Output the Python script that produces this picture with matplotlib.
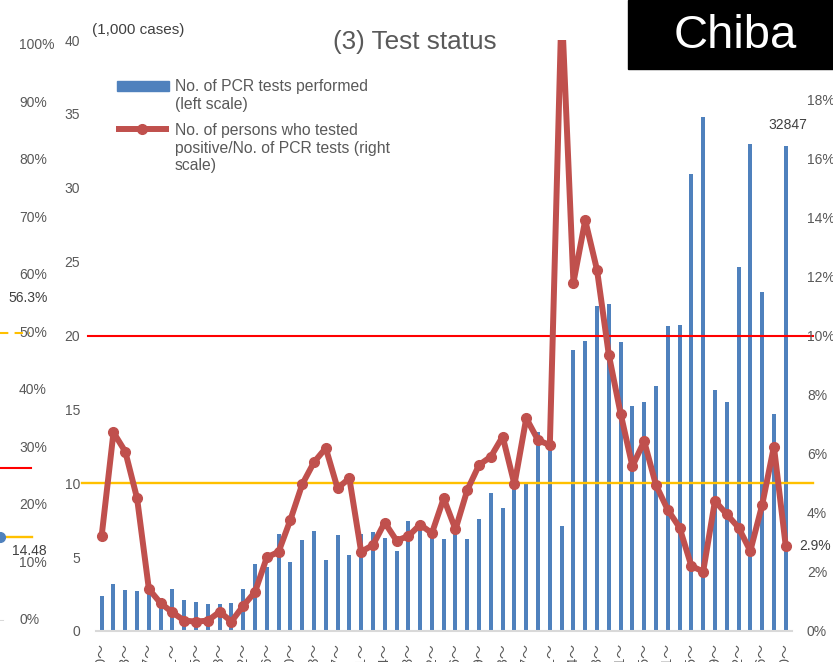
import numpy as np
import matplotlib
matplotlib.use("Agg")
import matplotlib.pyplot as plt
from matplotlib.patches import Rectangle
from matplotlib.lines import Line2D
from matplotlib import transforms
from matplotlib.ticker import PercentFormatter

plt.rcParams['font.family'] = ['Liberation Sans', 'Noto Sans CJK JP', 'DejaVu Sans']

# weekly PCR tests (thousands) and positivity rate (%)
tests = [2.37, 3.18, 2.77, 2.73, 2.55, 2.21, 2.82, 2.10, 1.94, 1.83,
         1.83, 1.87, 2.86, 4.51, 4.31, 6.54, 4.65, 6.14, 6.77, 4.79,
         6.50, 5.12, 6.54, 6.68, 6.32, 5.41, 7.47, 6.90, 6.38, 6.23,
         6.72, 6.20, 7.56, 9.32, 8.35, 9.86, 10.0, 13.49, 12.59, 7.14,
         19.02, 19.64, 22.03, 22.15, 19.55, 15.20, 15.51, 16.55, 20.61, 20.68,
         30.90, 34.78, 16.31, 15.49, 24.62, 32.97, 22.95, 14.71, 32.847]
rates = [3.23, 6.72, 6.07, 4.49, 1.42, 0.94, 0.63, 0.35, 0.32, 0.35,
         0.65, 0.32, 0.85, 1.32, 2.49, 2.68, 3.76, 4.96, 5.71, 6.19,
         4.83, 5.17, 2.68, 2.91, 3.67, 3.06, 3.21, 3.60, 3.31, 4.49,
         3.44, 4.77, 5.62, 5.90, 6.58, 4.96, 7.20, 6.46, 6.29, 21.2,
         11.79, 13.90, 12.22, 9.35, 7.36, 5.58, 6.42, 4.94, 4.10, 3.50,
         2.20, 2.01, 4.40, 3.95, 3.50, 2.71, 4.26, 6.24, 2.89]
week_labels = ['3/30～', '4/13～', '4/27～', '5/11～', '5/25～', '6/8～', '6/22～',
               '7/6～', '7/20～', '8/3～', '8/17～', '8/31～', '9/14～', '9/28～',
               '10/12～', '10/26～', '11/9～', '11/23～', '12/7～', '12/21～',
               '1/4～', '1/18～', '2/1～', '2/15～', '3/1～', '3/15～', '3/29～',
               '4/12～', '4/26～', '5/10～']
last_tests_label = '32847'
last_rate_label = '2.9%'
red_threshold = 20     # left scale (=10%)
yellow_threshold = 10  # left scale (=5%)

# neighbouring chart, only its right edge is visible
strip_ticks = [0, 10, 20, 30, 40, 50, 60, 70, 80, 90, 100]
strip_red = 26.5
strip_yellow_dash = 50
strip_yellow = 14.48

W, H = 833, 662
def fx(p):
    return p / W
def fy(p):
    return 1 - p / H

gray = '#595959'
blue = '#4F81BD'
red = '#C0504D'

fig = plt.figure(figsize=(W / 100, H / 100), dpi=100)

ax = fig.add_axes([fx(95.8), fy(631), fx(791.6) - fx(95.8), fy(40) - fy(631)])
x = np.arange(len(tests))
ax.bar(x, tests, width=0.34, color=blue, zorder=2)
ax.set_xlim(-0.5, len(tests) - 0.5)
ax.set_ylim(0, 40)
ax.set_yticks(range(0, 41, 5))
ax.set_xticks(x[::2])
ax.set_xticklabels(week_labels, rotation=90)
ax.tick_params(axis='y', length=0, pad=11.2, labelsize=10, labelcolor=gray)
ax.tick_params(axis='x', length=0, pad=8.6, labelsize=10, labelcolor=gray)
for s in ['top', 'left', 'right']:
    ax.spines[s].set_visible(False)
ax.spines['bottom'].set_color('#D9D9D9')
ax.spines['bottom'].set_linewidth(1.5)

# threshold lines extend past the plot area
tr = transforms.blended_transform_factory(fig.transFigure, ax.transData)
ax.add_line(Line2D([fx(88), fx(813)], [red_threshold] * 2, transform=tr,
                   color='#FF0000', lw=1.5, clip_on=False, zorder=3))
ax.add_line(Line2D([fx(82), fx(813)], [yellow_threshold] * 2, transform=tr,
                   color='#FFC000', lw=1.7, clip_on=False, zorder=3))

ax.annotate(last_tests_label, (x[-1], tests[-1]), xytext=(2, 21), textcoords='offset pixels',
            ha='center', va='center', fontsize=10, color='#404040')

ax2 = ax.twinx()
ax2.plot(x, rates, color=red, lw=4.3, marker='o', markersize=7, solid_joinstyle='round', zorder=4)
ax2.set_ylim(0, 20)
ax2.set_yticks(range(0, 21, 2))
ax2.yaxis.set_major_formatter(PercentFormatter(decimals=0))
ax2.tick_params(axis='y', length=0, pad=11, labelsize=10, labelcolor=gray)
for s in ax2.spines.values():
    s.set_visible(False)
ax2.annotate(last_rate_label, (x[-1], rates[-1]), xytext=(14, 0), textcoords='offset pixels',
             ha='left', va='center', fontsize=10, color='#404040')

# titles
fig.text(fx(92), fy(30), '(1,000 cases)', ha='left', va='center', fontsize=11, color='#404040')
fig.text(fx(414.5), fy(42), '(3) Test status', ha='center', va='center', fontsize=18.8, color=gray)

# legend drawn by hand so the keys line up with the first line of text
fig.patches.append(Rectangle((fx(116.7), fy(90.5)), fx(169.3) - fx(116.7), 9 / H,
                             transform=fig.transFigure, color=blue))
fig.lines.append(Line2D([fx(116), fx(169)], [fy(128.5)] * 2, transform=fig.transFigure,
                        color=red, lw=4.3, solid_capstyle='butt'))
fig.lines.append(Line2D([fx(142)], [fy(128.5)], transform=fig.transFigure,
                        color=red, marker='o', markersize=7))
fig.text(fx(175), fy(95.5), 'No. of PCR tests performed\n(left scale)',
         ha='left', va='center', fontsize=11.3, color=gray, linespacing=1.2)
fig.text(fx(175), fy(148.3), 'No. of persons who tested\npositive/No. of PCR tests (right\nscale)',
         ha='left', va='center', fontsize=11.3, color=gray, linespacing=1.2)

# Chiba box
fig.patches.append(Rectangle((fx(628), fy(69)), fx(833) - fx(628), 69 / H,
                             transform=fig.transFigure, color='black', zorder=5))
fig.text(fx(735), fy(36), 'Chiba', ha='center', va='center', fontsize=34, color='white', zorder=6)

# strip of the chart on the left
axs = fig.add_axes([0, fy(620.5), fx(60), fy(45) - fy(620.5)])
axs.set_xlim(0, 60)
axs.set_ylim(0, 100)
axs.axis('off')
for v in strip_ticks:
    axs.text(19, v, f'{v}%', ha='left', va='center', fontsize=10, color=gray)
axs.plot([0, 30], [strip_yellow_dash] * 2, color='#FFC000', lw=1.5, ls=(0, (4, 3)))
axs.plot([0, 31], [strip_red] * 2, color='#FF0000', lw=1.5)
axs.plot([0, 32], [strip_yellow] * 2, color='#FFC000', lw=1.7)
axs.plot([0], [strip_yellow], 'o', color=blue, markersize=7, clip_on=True)
axs.plot([0, 3], [0, 0], color='#D9D9D9', lw=1.5)
axs.text(28.5, 56.0, '56.3%', ha='center', va='center', fontsize=10, color='#404040')
axs.text(29.5, 12.1, f'{strip_yellow:.2f}', ha='center', va='center', fontsize=10, color='#404040')

fig.savefig('out.png', dpi=100)
